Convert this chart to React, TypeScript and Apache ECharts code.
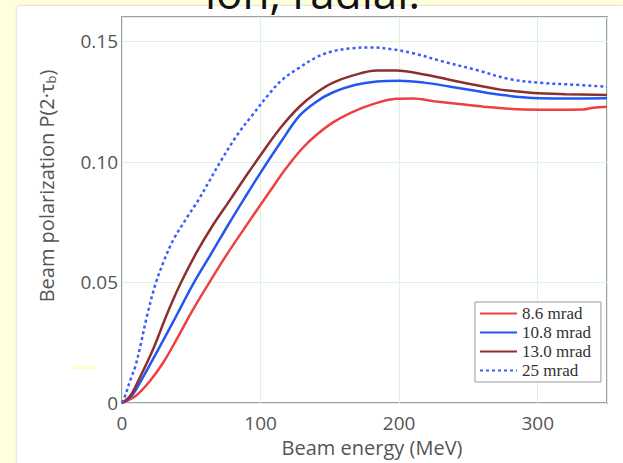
import React, { useEffect, useRef } from "react";
import * as echarts from "echarts";

const seriesNames = ["8.6 mrad", "10.8 mrad", "13.0 mrad", "25 mrad"];

const red86: [number, number][] = [
  [0, 0], [10, 0.003], [20, 0.009], [30, 0.017], [40, 0.027], [50, 0.0375], [62, 0.049],
  [75, 0.061], [92, 0.0755], [101, 0.083], [110, 0.0905], [118, 0.097], [130, 0.1055],
  [140, 0.111], [152, 0.1162], [165, 0.1203], [180, 0.1237], [198, 0.1261], [210, 0.1262],
  [225, 0.1251], [245, 0.1238], [261, 0.1228], [285, 0.1218], [310, 0.1216], [333, 0.1217],
  [340, 0.1224], [350, 0.1228],
];

const blue108: [number, number][] = [
  [0, 0], [7, 0.003], [14, 0.0095], [26, 0.022], [40, 0.037], [51, 0.049], [65, 0.0625],
  [77, 0.0742], [88, 0.0845], [100, 0.0955], [115, 0.1085], [128, 0.119], [140, 0.1248],
  [152, 0.1287], [168, 0.1318], [184, 0.1333], [200, 0.1336], [218, 0.1328], [237, 0.1311],
  [255, 0.1294], [273, 0.1278], [297, 0.1264], [320, 0.1262], [350, 0.1263],
];

const brown130: [number, number][] = [
  [0, 0], [6, 0.003], [12, 0.0095], [22.6, 0.0225], [32, 0.0362], [41.8, 0.049], [53.9, 0.0625],
  [65.9, 0.074], [78, 0.0842], [90, 0.0945], [103, 0.1052], [115, 0.1145], [128, 0.1228],
  [140, 0.1285], [152, 0.1327], [168, 0.136], [184, 0.1378], [198, 0.1378], [218, 0.1362],
  [237, 0.1339], [255, 0.1318], [273, 0.1299], [297, 0.1285], [320, 0.128], [350, 0.1277],
];

const dotted25: [number, number][] = [
  [0, 0], [2, 0.0026], [6, 0.0095], [9.5, 0.015], [13, 0.023], [18, 0.036], [24, 0.049],
  [30, 0.0585], [37, 0.0676], [47, 0.077], [55, 0.084], [63, 0.092], [71, 0.1], [83, 0.111],
  [95, 0.12], [106, 0.128], [116, 0.1342], [128, 0.139], [140, 0.1432], [152, 0.1458],
  [165, 0.147], [180, 0.1474], [195, 0.1466], [210, 0.145], [232, 0.1415], [256, 0.138],
  [280, 0.1342], [304, 0.1326], [321, 0.1321], [350, 0.1311],
];

const xTicks = { min: 0, max: 350, interval: 100 };
const yTicks = { min: 0, max: 0.16, interval: 0.05 };

const xName = "Beam energy (MeV)";
const yName = "Beam polarization P(2·τ{s|b})";
const topText = "ion, radial.";

export default function App() {
  const ref = useRef<HTMLDivElement>(null);
  useEffect(() => {
    if (!ref.current) return;
    const chart = echarts.init(ref.current, undefined, { renderer: "svg" });
    const font = "'Open Sans', sans-serif";
    const mk = (name: string, data: [number, number][], color: string, type: any) => ({
      name,
      type: "line",
      data,
      symbol: "none",
      showSymbol: false,
      smooth: 0.35,
      lineStyle: { color, width: 2.5, type },
      itemStyle: { color },
    });
    chart.setOption({
      animation: false,
      backgroundColor: "transparent",
      grid: {
        left: 122, top: 17, right: 16, bottom: 60, show: true,
        borderColor: "#a0a0a0", borderWidth: 2, backgroundColor: "transparent",
      },
      xAxis: {
        type: "value", min: xTicks.min, max: xTicks.max, interval: xTicks.interval,
        axisLine: { show: false }, axisTick: { show: false },
        splitLine: { lineStyle: { color: "#dcf3dc", width: 1 } },
        axisLabel: { fontSize: 19, color: "#555", fontFamily: font, margin: 10, showMaxLabel: false },
      },
      yAxis: {
        type: "value", min: yTicks.min, max: yTicks.max, interval: yTicks.interval,
        axisLine: { show: false }, axisTick: { show: false },
        splitLine: { lineStyle: { color: "#dcf3dc", width: 1 } },
        axisLabel: {
          fontSize: 19, color: "#555", fontFamily: font, margin: 4, showMaxLabel: false,
          formatter: (v: number) => (v === 0 ? "0" : v.toFixed(2)),
        },
      },
      legend: {
        orient: "vertical", left: 475, top: 302,
        data: seriesNames,
        backgroundColor: "#fff", borderColor: "#999", borderWidth: 1,
        padding: [3, 10, 3, 4], itemWidth: 37, itemHeight: 12, itemGap: 2,
        itemStyle: { opacity: 0 },
        textStyle: { fontFamily: "'Liberation Serif', serif", fontSize: 17, color: "#333" },
      },
      graphic: [
        {
          type: "text", x: 46, y: 186, rotation: Math.PI / 2,
          style: {
            text: yName, fontSize: 20, fill: "#555", fontFamily: font,
            align: "center", verticalAlign: "middle",
            rich: { s: { fontSize: 13, fill: "#555", fontFamily: font, padding: [10, 0, 0, 0] } },
          },
        },
        {
          type: "text", x: 372, y: 447,
          style: { text: xName, fontSize: 20, fill: "#555", fontFamily: font, align: "center", verticalAlign: "middle" },
        },
        {
          type: "text", x: 205, y: 14,
          style: { text: topText, fontSize: 44, fill: "#111", fontFamily: font, align: "left", verticalAlign: "bottom" },
        },
        { type: "rect", shape: { x: 72, y: 366, width: 24, height: 3 }, style: { fill: "#ffffcc" } },
      ],
      series: [
        mk(seriesNames[0], red86, "#ee4040", "solid"),
        mk(seriesNames[1], blue108, "#2357f0", "solid"),
        mk(seriesNames[2], brown130, "#8e2f2f", "solid"),
        mk(seriesNames[3], dotted25, "#3b5cff", [3, 3]),
      ],
    });
    return () => chart.dispose();
  }, []);
  return (
    <div style={{ position: "fixed", left: 0, top: 0, width: 623, height: 463, background: "#ffffdc", overflow: "hidden" }}>
      <div style={{ position: "absolute", left: 17, top: 6, right: 0, bottom: 0, background: "#fff", boxShadow: "0 0 2px #bbb" }} />
      <div ref={ref} style={{ position: "absolute", left: 0, top: 0, width: 623, height: 463 }} />
    </div>
  );
}
